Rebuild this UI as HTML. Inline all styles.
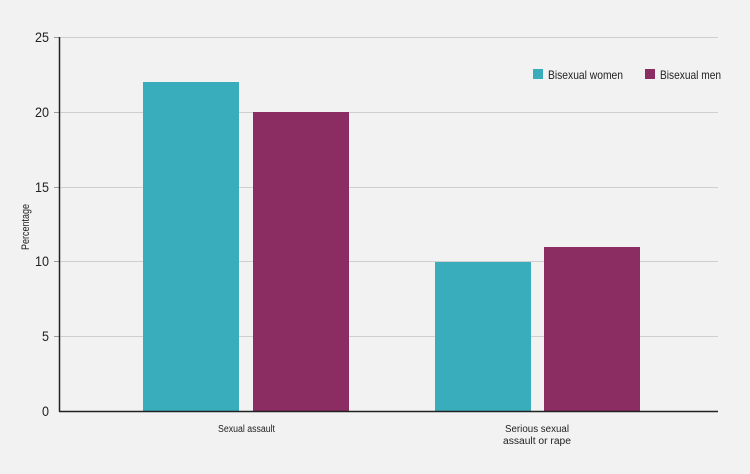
<!DOCTYPE html>
<html><head><meta charset="utf-8"><style>
body{margin:0;background:#f2f2f2;overflow:hidden;}
svg{display:block;}
svg text{font-family:"Liberation Sans",sans-serif;fill:#222;}
</style></head><body>
<svg width="750" height="474" viewBox="0 0 750 474" xmlns="http://www.w3.org/2000/svg">
<rect width="750" height="474" fill="#f2f2f2"/>
<g stroke="#cfcfcf" stroke-width="1">
<line x1="59" y1="37.5" x2="718" y2="37.5"/>
<line x1="59" y1="112.5" x2="718" y2="112.5"/>
<line x1="59" y1="187.5" x2="718" y2="187.5"/>
<line x1="59" y1="261.5" x2="718" y2="261.5"/>
<line x1="59" y1="336.5" x2="718" y2="336.5"/>
</g>
<g stroke="#999" stroke-width="1">
<line x1="54" y1="37.5" x2="59" y2="37.5"/>
<line x1="54" y1="112.5" x2="59" y2="112.5"/>
<line x1="54" y1="187.5" x2="59" y2="187.5"/>
<line x1="54" y1="261.5" x2="59" y2="261.5"/>
<line x1="54" y1="336.5" x2="59" y2="336.5"/>
</g>
<rect x="143" y="82" width="96" height="329" fill="#3aadbd"/>
<rect x="253" y="112" width="96" height="299" fill="#8b2d63"/>
<rect x="435" y="262" width="96" height="149" fill="#3aadbd"/>
<rect x="544" y="247" width="96" height="164" fill="#8b2d63"/>
<line x1="59.5" y1="37" x2="59.5" y2="411.5" stroke="#222" stroke-width="1.5"/>
<line x1="59" y1="411.5" x2="718" y2="411.5" stroke="#222" stroke-width="1.5"/>
<g font-size="14">
<text x="35" y="42" textLength="14" lengthAdjust="spacingAndGlyphs">25</text>
<text x="35" y="117" textLength="14" lengthAdjust="spacingAndGlyphs">20</text>
<text x="35" y="192" textLength="14" lengthAdjust="spacingAndGlyphs">15</text>
<text x="35" y="266" textLength="14" lengthAdjust="spacingAndGlyphs">10</text>
<text x="42" y="341" textLength="7" lengthAdjust="spacingAndGlyphs">5</text>
<text x="42" y="416" textLength="7" lengthAdjust="spacingAndGlyphs">0</text>
</g>
<text transform="translate(29,250) rotate(-90)" font-size="11" textLength="46" lengthAdjust="spacingAndGlyphs">Percentage</text>
<g font-size="10">
<text x="218" y="432" textLength="57" lengthAdjust="spacingAndGlyphs">Sexual assault</text>
<text x="505" y="432" textLength="64" lengthAdjust="spacingAndGlyphs">Serious sexual</text>
<text x="503" y="444" textLength="68" lengthAdjust="spacingAndGlyphs">assault or rape</text>
</g>
<rect x="533" y="69" width="10" height="10" fill="#3aadbd"/>
<text x="548" y="79" font-size="12" textLength="75" lengthAdjust="spacingAndGlyphs">Bisexual women</text>
<rect x="645" y="69" width="10" height="10" fill="#8b2d63"/>
<text x="660" y="79" font-size="12" textLength="61" lengthAdjust="spacingAndGlyphs">Bisexual men</text>
</svg>
</body></html>
